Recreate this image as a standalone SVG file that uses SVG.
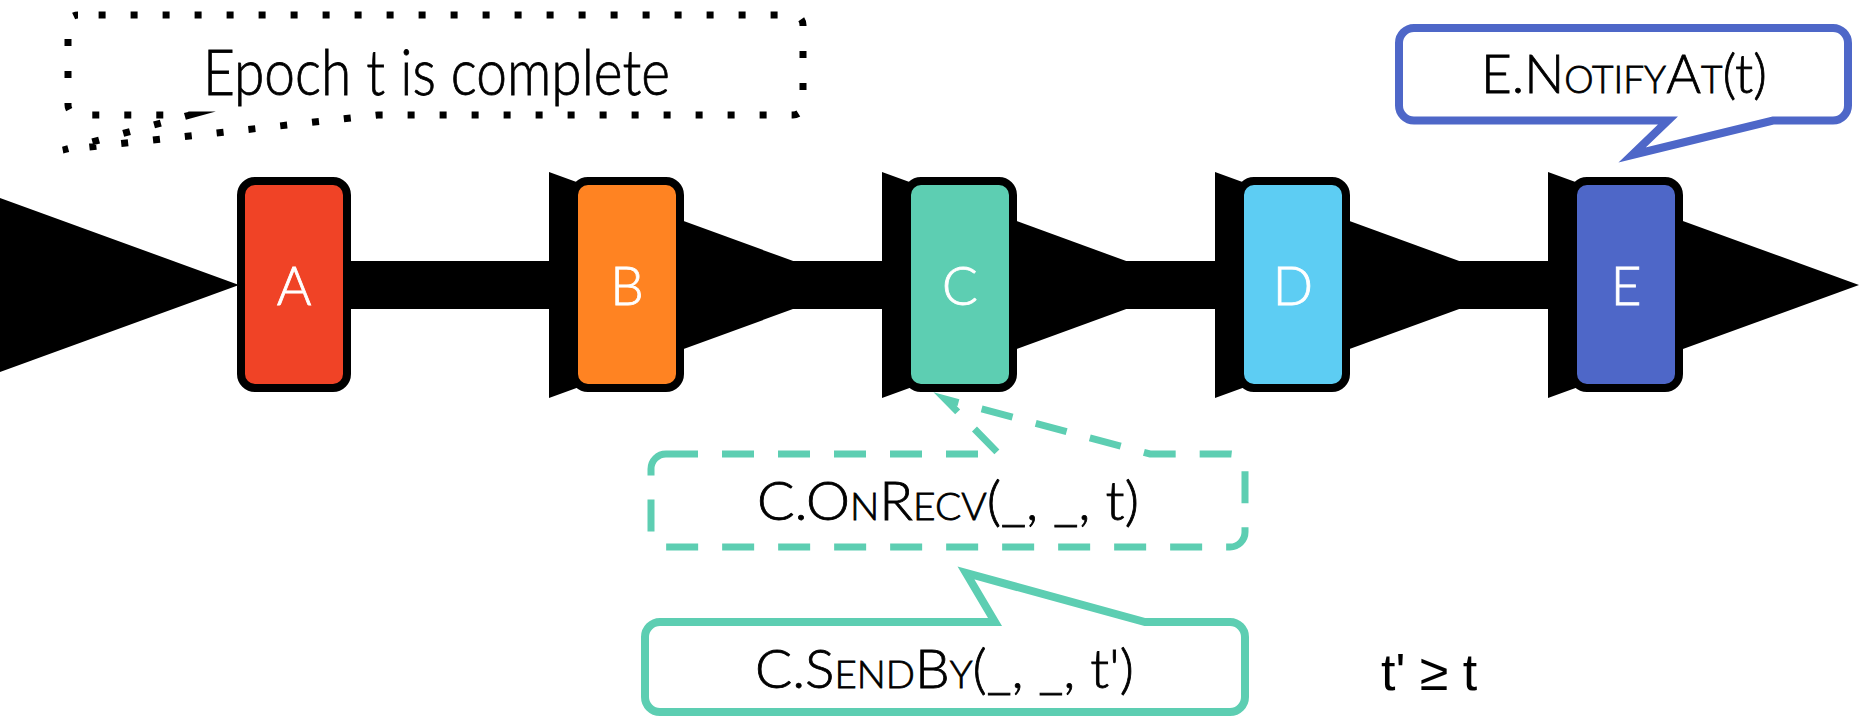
<svg xmlns="http://www.w3.org/2000/svg" width="1859" height="718" viewBox="0 0 1859 718">
  <style>
    .t { font-family: Lato, "Open Sans", "Liberation Sans", sans-serif; font-weight: 300; fill: #000; stroke: #000; stroke-width: 0.8px; }
    .nl { font-size: 53px; fill: #ffffff; stroke: #ffffff; text-anchor: middle; }
    .box { stroke: #000; stroke-width: 8; }
    .sc { font-variant: small-caps; }
    .bub { fill: #fff; stroke-linejoin: miter; stroke-miterlimit: 10; }
  </style>
  <rect x="0" y="0" width="1859" height="718" fill="#fff"/>

  <g id="connectors" fill="#000">
    <g id="edge-in-A"><polygon points="-71,172 239,285 -71,398"/></g>
    <g id="edge-A-B"><rect x="340" y="261" width="220" height="48"/><polygon points="549,172 859,285 549,398"/></g>
    <g id="edge-B-C"><rect x="670" y="261" width="223" height="48"/><polygon points="882,172 1192,285 882,398"/></g>
    <g id="edge-C-D"><rect x="1000" y="261" width="226" height="48"/><polygon points="1215,172 1525,285 1215,398"/></g>
    <g id="edge-D-E"><rect x="1340" y="261" width="219" height="48"/><polygon points="1548,172 1859,285 1548,398"/></g>
  </g>

  <g id="node-A"><rect class="box" x="241" y="181" width="106" height="207" rx="14" fill="#F04326"/><text class="t nl" x="294" y="305">A</text></g>
  <g id="node-B"><rect class="box" x="574" y="181" width="106" height="207" rx="14" fill="#FF8322"/><text class="t nl" x="627" y="305">B</text></g>
  <g id="node-C"><rect class="box" x="907" y="181" width="106" height="207" rx="14" fill="#5DCEB2"/><text class="t nl" x="960" y="305">C</text></g>
  <g id="node-D"><rect class="box" x="1240" y="181" width="106" height="207" rx="14" fill="#5DCDF3"/><text class="t nl" x="1293" y="305">D</text></g>
  <g id="node-E"><rect class="box" x="1573" y="181" width="106" height="207" rx="14" fill="#4E67C8"/><text class="t nl" x="1626" y="305">E</text></g>

  <g id="note-epoch">
    <path class="bub" d="M 78,15 H 793 A 10 10 0 0 1 803,25 V 105 A 10 10 0 0 1 793,115 H 378 L 63,150 L 190,115 H 78 A 10 10 0 0 1 68,105 V 25 A 10 10 0 0 1 78,15 Z" stroke="#000" stroke-width="7" stroke-dasharray="7 25" stroke-dashoffset="11.4"/>
    <text class="t" x="203" y="95" font-size="63" textLength="467" lengthAdjust="spacingAndGlyphs">Epoch t is complete</text>
  </g>

  <g id="note-notify">
    <path class="bub" d="M 1414,28 H 1833 A 15 15 0 0 1 1848,43 V 105.5 A 15 15 0 0 1 1833,120.5 H 1773 L 1632,155 L 1668,120.5 H 1414 A 15 15 0 0 1 1399,105.5 V 43 A 15 15 0 0 1 1414,28 Z" stroke="#4E67C8" stroke-width="8"/>
    <text class="t" x="1481" y="93" font-size="53" textLength="286" lengthAdjust="spacingAndGlyphs">E.N<tspan class="sc">otify</tspan>A<tspan class="sc">t</tspan>(t)</text>
  </g>

  <g id="note-onrecv">
    <path class="bub" d="M 666,454 H 999 L 945,399 L 1150,454 H 1230 A 15 15 0 0 1 1245,469 V 532 A 15 15 0 0 1 1230,547 H 666 A 15 15 0 0 1 651,532 V 469 A 15 15 0 0 1 666,454 Z" stroke="#5DCEB2" stroke-width="7" stroke-dasharray="32 24"/>
    <text class="t" x="757" y="520" font-size="53" textLength="382" lengthAdjust="spacingAndGlyphs">C.O<tspan class="sc">n</tspan>R<tspan class="sc">ecv</tspan>(_, _, t)</text>
  </g>

  <g id="note-sendby">
    <path class="bub" d="M 660,622 H 995 L 966,573 L 1145,622 H 1230 A 15 15 0 0 1 1245,637 V 697 A 15 15 0 0 1 1230,712 H 660 A 15 15 0 0 1 645,697 V 637 A 15 15 0 0 1 660,622 Z" stroke="#5DCEB2" stroke-width="8"/>
    <text class="t" x="755" y="688" font-size="53" textLength="379" lengthAdjust="spacingAndGlyphs">C.S<tspan class="sc">end</tspan>B<tspan class="sc">y</tspan>(_, _, t')</text>
  </g>

  <g id="note-ineq">
    <text x="1381" y="690" font-family="'Liberation Sans', Arial, sans-serif" font-size="52" fill="#000">t' ≥ t</text>
  </g>
</svg>
